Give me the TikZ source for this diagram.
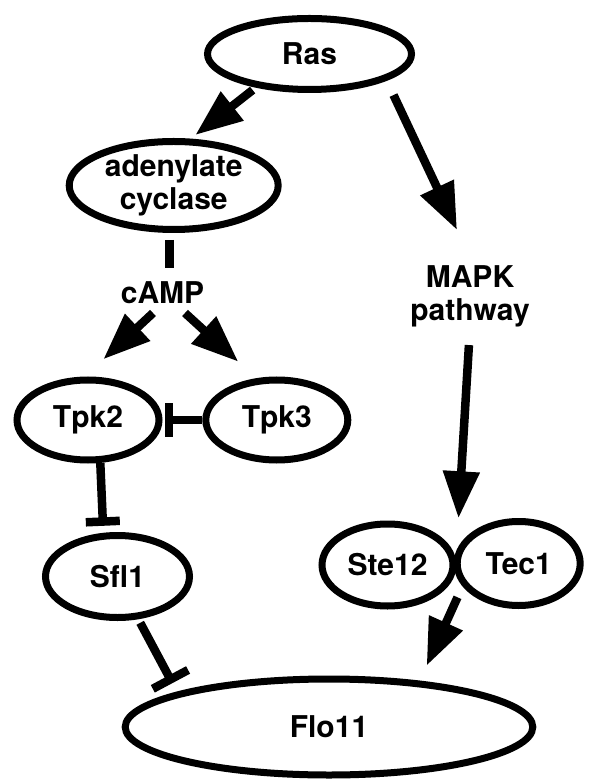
\documentclass[tikz,border=0pt]{standalone}
\usepackage{fontspec}
\setmainfont{TeX Gyre Heros}
\usepackage{tikz}
\usetikzlibrary{positioning}
\usetikzlibrary{arrows.meta}
\usetikzlibrary{shapes.geometric}

\tikzset{
  gene/.style={ellipse, draw, line width=3.5pt, inner sep=0pt,
    font=\fontsize{15}{16.5}\selectfont\bfseries, align=center},
  lbl/.style={inner sep=0pt, font=\fontsize{15}{16.5}\selectfont\bfseries, align=center},
  act/.style={-{Triangle[length=23.5pt,width=17.5pt]}, line width=4.25pt},
  inh/.style={-{Rectangle[length=4.25pt,width=17pt]}, line width=4.25pt},
  link/.style={line width=4.25pt}
}

\begin{document}
\begin{tikzpicture}[on grid]

  \useasboundingbox (-154.75pt,27pt) rectangle (142.25pt,-362.5pt);

  % Define nodes

  \node[gene, minimum width=102pt, minimum height=35.5pt] (ras) at (0,0) {Ras};
  \node[gene, minimum width=104.5pt, minimum height=44pt, below left=65.75pt and 67.9pt of ras] (adc) {adenylate\\cyclase};
  \node[lbl, below=53.5pt of adc, xshift=-5.6pt] (camp) {cAMP};
  \node[gene, minimum width=71pt, minimum height=40pt, below left=63.75pt and 37.25pt of camp] (tpk2) {Tpk2};
  \node[gene, minimum width=71pt, minimum height=40pt, right=94.4pt of tpk2] (tpk3) {Tpk3};
  \node[gene, minimum width=72pt, minimum height=41pt, below right=78.25pt and 14.75pt of tpk2] (sfl1) {Sfl1};
  \node[gene, minimum width=203.8pt, minimum height=48pt, below right=75.25pt and 105.75pt of sfl1] (flo11) {Flo11};
  \node[lbl, below right=121pt and 80.25pt of ras] (mapk) {MAPK\\pathway};
  \node[gene, minimum width=65.5pt, minimum height=41pt, below left=134.5pt and 41.25pt of mapk] (ste12) {Ste12};
  \node[gene, minimum width=61.5pt, minimum height=42pt, right=65.6pt of ste12, yshift=0.75pt] (tec1) {Tec1};

  \coordinate[above=23.35pt of ste12.east, xshift=1pt] (pairtop);
  \coordinate[below=16.15pt of ste12.east, xshift=0.5pt] (pairbot);

  % Connect the nodes
  \draw[act, shorten <=2pt, shorten >=2.9pt] (ras.212) -- (adc.70);
  \draw[act, shorten <=8pt] (ras.341) -- ([shift={(-6.5pt,33pt)}]mapk.center);
  \draw[link, shorten <=3.5pt, shorten >=6.6pt] ([xshift=-2pt]adc.south) -- ([xshift=-2pt]adc.south |- camp.north);
  \draw[act] ([shift={(-4.75pt,-10.25pt)}]camp.center) -- ([shift={(7.65pt,30.35pt)}]tpk2.center);
  \draw[act] ([shift={(11.25pt,-10.25pt)}]camp.center) -- ([shift={(-19.25pt,29.15pt)}]tpk3.center);
  \draw[inh, shorten >=1.2pt] (tpk3.west) -- (tpk2.east);
  \draw[inh, shorten >=3.5pt] (tpk2.286) -- (sfl1.108);
  \draw[inh, -{Rectangle[length=4.25pt,width=20pt]}, shorten <=2pt, shorten >=5pt] (sfl1.296) -- (flo11.167);
  \draw[act, shorten <=9pt] (mapk.south) -- (pairtop);
  \draw[act, shorten >=8.25pt] (pairbot) -- (flo11.27);

\end{tikzpicture}
\end{document}
